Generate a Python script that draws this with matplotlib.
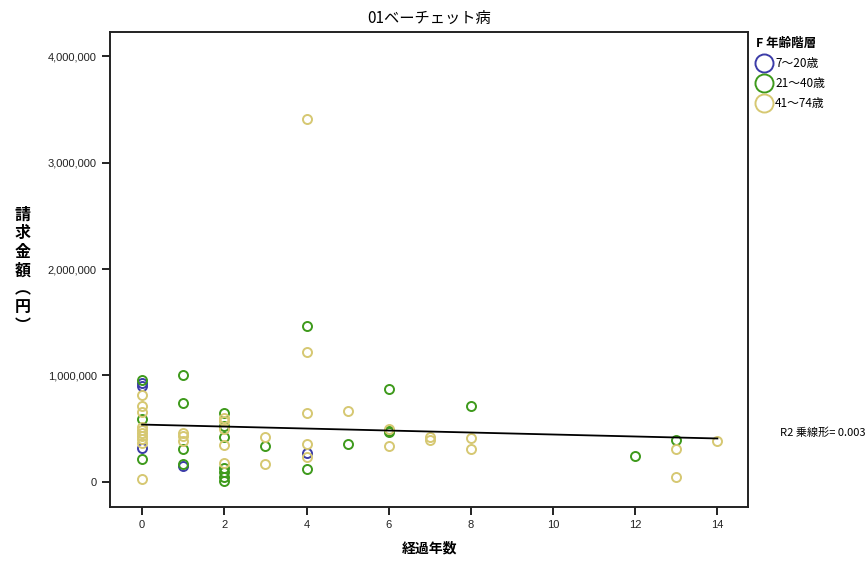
import numpy as np
import matplotlib
matplotlib.use("Agg")
import matplotlib.pyplot as plt

plt.rcParams['font.family'] = ['Noto Sans CJK JP', 'DejaVu Sans']

# 経過年数 / 請求金額（円）, by age group
x_young = [0, 0, 0, 1, 4]
y_young = [930000, 900000, 320000, 150000, 270000]

x_mid = [0, 0, 0, 1, 1, 1, 1, 2, 2, 2, 2, 2, 2, 2, 3, 4, 4, 5, 6, 6, 6, 8, 12, 13]
y_mid = [960000, 590000, 220000, 1000000, 745000, 310000, 170000,
         650000, 530000, 420000, 130000, 97000, 50000, 5000,
         340000, 1465000, 120000, 357000, 870000, 480000, 467000,
         713000, 244000, 390000]

x_old = [0, 0, 0, 0, 0, 0, 0, 0, 0, 0, 1, 1, 1, 2, 2, 2, 2, 2,
         3, 3, 4, 4, 4, 4, 4, 5, 6, 6, 7, 7, 8, 8, 13, 13, 14]
y_old = [820000, 710000, 660000, 520000, 490000, 460000, 430000, 400000, 370000, 25000,
         460000, 430000, 380000,
         600000, 570000, 495000, 350000, 180000,
         420000, 170000,
         3410000, 1220000, 645000, 360000, 230000,
         670000, 500000, 338000,
         425000, 390000, 410000, 310000,
         310000, 50000, 380000]

groups = ["7～20歳", "21～40歳", "41～74歳"]
colors = ["#3c3ca8", "#3e9a1c", "#d6c872"]
r2_text = "R2 乗線形= 0.003"

fig = plt.figure(figsize=(8.67, 5.63), dpi=100)
ax = fig.add_axes([0.127, 0.0995, 0.736, 0.8435])

for xs, ys, c, g in zip([x_young, x_mid, x_old], [y_young, y_mid, y_old], colors, groups):
    ax.plot(xs, ys, 'o', ms=6.5, mfc='none', mec=c, mew=1.4, label=g, ls='none')

# linear fit over all points
all_x = np.array(x_young + x_mid + x_old, dtype=float)
all_y = np.array(y_young + y_mid + y_old, dtype=float)
b, a = np.polyfit(all_x, all_y, 1)
fx = np.array([0, 14])
ax.plot(fx, a + b * fx, color='black', lw=1.3)

ax.set_xlim(-0.78, 14.75)
ax.set_ylim(-235000, 4225000)
ax.set_xticks(range(0, 15, 2))
ax.set_yticks([0, 1000000, 2000000, 3000000, 4000000])
ax.set_yticklabels(["0", "1,000,000", "2,000,000", "3,000,000", "4,000,000"])
ax.tick_params(direction='out', length=6, width=1.4, labelsize=8, colors='#222222')
for lab in ax.get_xticklabels() + ax.get_yticklabels():
    lab.set_family(['Liberation Sans', 'DejaVu Sans'])
for s in ax.spines.values():
    s.set_linewidth(1.4)
    s.set_color('#222222')

ax.set_title("01ベーチェット病", fontsize=11, pad=7)
ax.set_xlabel("経過年数", fontsize=10, fontweight='bold', labelpad=8)
fig.text(0.026, 0.52, "請\n求\n金\n額\n︵\n円\n︶", fontsize=11.5, fontweight='bold',
         ha='center', va='center', linespacing=1.2)

leg = ax.legend(title="F 年齢階層", loc='upper left', bbox_to_anchor=(1.005, 1.0),
                frameon=False, fontsize=8.5, markerscale=2.0, handletextpad=0.3,
                borderaxespad=0.0, labelspacing=0.6, handlelength=1.3)
leg.get_title().set_fontsize(9)
leg.get_title().set_fontweight('bold')
leg._legend_box.align = "left"

fig.text(0.9, 0.232, r2_text, fontsize=8, va='center')

fig.savefig("out.png", dpi=100)
